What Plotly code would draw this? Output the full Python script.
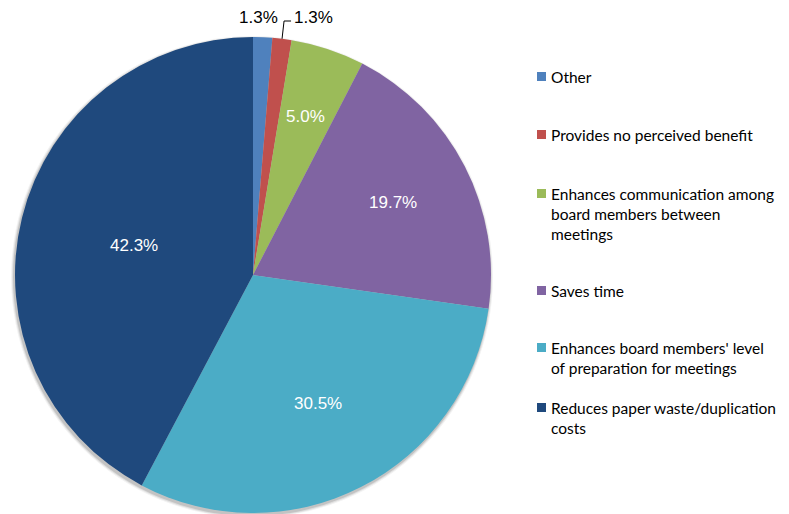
import math
import plotly.graph_objects as go

# Survey responses: perceived benefit of board portal software
categories = [
    "Other",
    "Provides no perceived benefit",
    "Enhances communication among board members between meetings",
    "Saves time",
    "Enhances board members' level of preparation for meetings",
    "Reduces paper waste/duplication costs",
]
legend_lines = [
    ["Other"],
    ["Provides no perceived benefit"],
    ["Enhances communication among", "board members between", "meetings"],
    ["Saves time"],
    ["Enhances board members' level", "of preparation for meetings"],
    ["Reduces paper waste/duplication", "costs"],
]
percentages = [1.3, 1.3, 5.0, 19.7, 30.5, 42.3]
colors = ["#4F81BD", "#C0504D", "#9BBB59", "#8064A2", "#4BACC6", "#1F497D"]

W, H = 789, 514
CX, CY, R = 253, 275, 238  # pie centre / radius in pixels

fig = go.Figure()
fig.add_trace(go.Pie(
    labels=categories,
    values=percentages,
    marker=dict(colors=colors, line=dict(width=0)),
    sort=False,
    direction="clockwise",
    rotation=0,
    textinfo="none",
    hoverinfo="label+value",
    domain=dict(x=[(CX - R) / W, (CX + R) / W], y=[1 - (CY + R) / H, 1 - (CY - R) / H]),
    showlegend=False,
))

annotations = []
shapes = []


def px_to_paper(x, y):
    return x / W, 1 - y / H


# soft drop shadow under the pie
for grow, op in [(3, 0.05), (2, 0.08), (1, 0.12)]:
    x0, y0 = px_to_paper(CX - 1 - R - grow, CY + 2 - R - grow)
    x1, y1 = px_to_paper(CX - 1 + R + grow, CY + 2 + R + grow)
    shapes.append(dict(type="circle", xref="paper", yref="paper", layer="below",
                       x0=x0, x1=x1, y0=y1, y1=y0, fillcolor="black", opacity=op,
                       line=dict(width=0)))

LABEL_FONT = "Liberation Sans"

# value labels placed near each slice's centroid
total = sum(percentages)
cum = 0.0
for i, v in enumerate(percentages):
    sweep = v / total * 2 * math.pi
    mid = (cum + v / 2) / total * 2 * math.pi
    cum += v
    sx, sy = math.sin(mid), -math.cos(mid)
    label = f"{v:.1f}%"
    if v >= 3:
        frac = 1.06 * 4 * math.sin(sweep / 2) / (3 * sweep)
        x, y = CX + frac * R * sx, CY + frac * R * sy
        px, py = px_to_paper(x, y)
        annotations.append(dict(x=px, y=py, xref="paper", yref="paper", text=label,
                                showarrow=False, xanchor="center", yanchor="middle",
                                font=dict(family=LABEL_FONT, size=17, color="white")))
    else:
        ex, ey = CX + R * sx, CY + R * sy
        if i == 0:
            px, py = px_to_paper(ex - 4, CY - R - 19)
            annotations.append(dict(x=px, y=py, xref="paper", yref="paper", text=label,
                                    showarrow=False, xanchor="center", yanchor="middle",
                                    font=dict(family=LABEL_FONT, size=17, color="#000")))
        else:
            kx, ky = ex + 2, CY - R - 16
            tx = kx + 7
            p0 = px_to_paper(ex, ey)
            p1 = px_to_paper(kx, ky)
            p2 = px_to_paper(tx, ky)
            shapes.append(dict(type="path", xref="paper", yref="paper",
                               path=f"M {p0[0]} {p0[1]} L {p1[0]} {p1[1]} L {p2[0]} {p2[1]}",
                               line=dict(color="#000", width=1)))
            px, py = px_to_paper(tx + 1, ky - 3)
            annotations.append(dict(x=px, y=py, xref="paper", yref="paper", text=label,
                                    showarrow=False, xanchor="left", yanchor="middle",
                                    font=dict(family=LABEL_FONT, size=17, color="#000")))

# legend drawn at the right-hand side
legend_first_line_y = [77, 135, 194, 291, 348, 408]
for lines, col, ly in zip(legend_lines, colors, legend_first_line_y):
    x0, y0 = px_to_paper(537, ly - 5)
    x1, y1 = px_to_paper(546, ly + 4)
    shapes.append(dict(type="rect", xref="paper", yref="paper", x0=x0, x1=x1, y0=y1, y1=y0,
                       fillcolor=col, line=dict(width=0)))
    tx, ty = px_to_paper(549, ly - 11)
    annotations.append(dict(x=tx, y=ty, xref="paper", yref="paper", text="<br>".join(lines),
                            showarrow=False, xanchor="left", yanchor="top", align="left",
                            font=dict(family="Lato", size=15.5, color="#000")))

fig.update_layout(
    width=W, height=H,
    margin=dict(l=0, r=0, t=0, b=0),
    paper_bgcolor="white",
    plot_bgcolor="white",
    annotations=annotations,
    shapes=shapes,
)

fig.write_html("out.html")
